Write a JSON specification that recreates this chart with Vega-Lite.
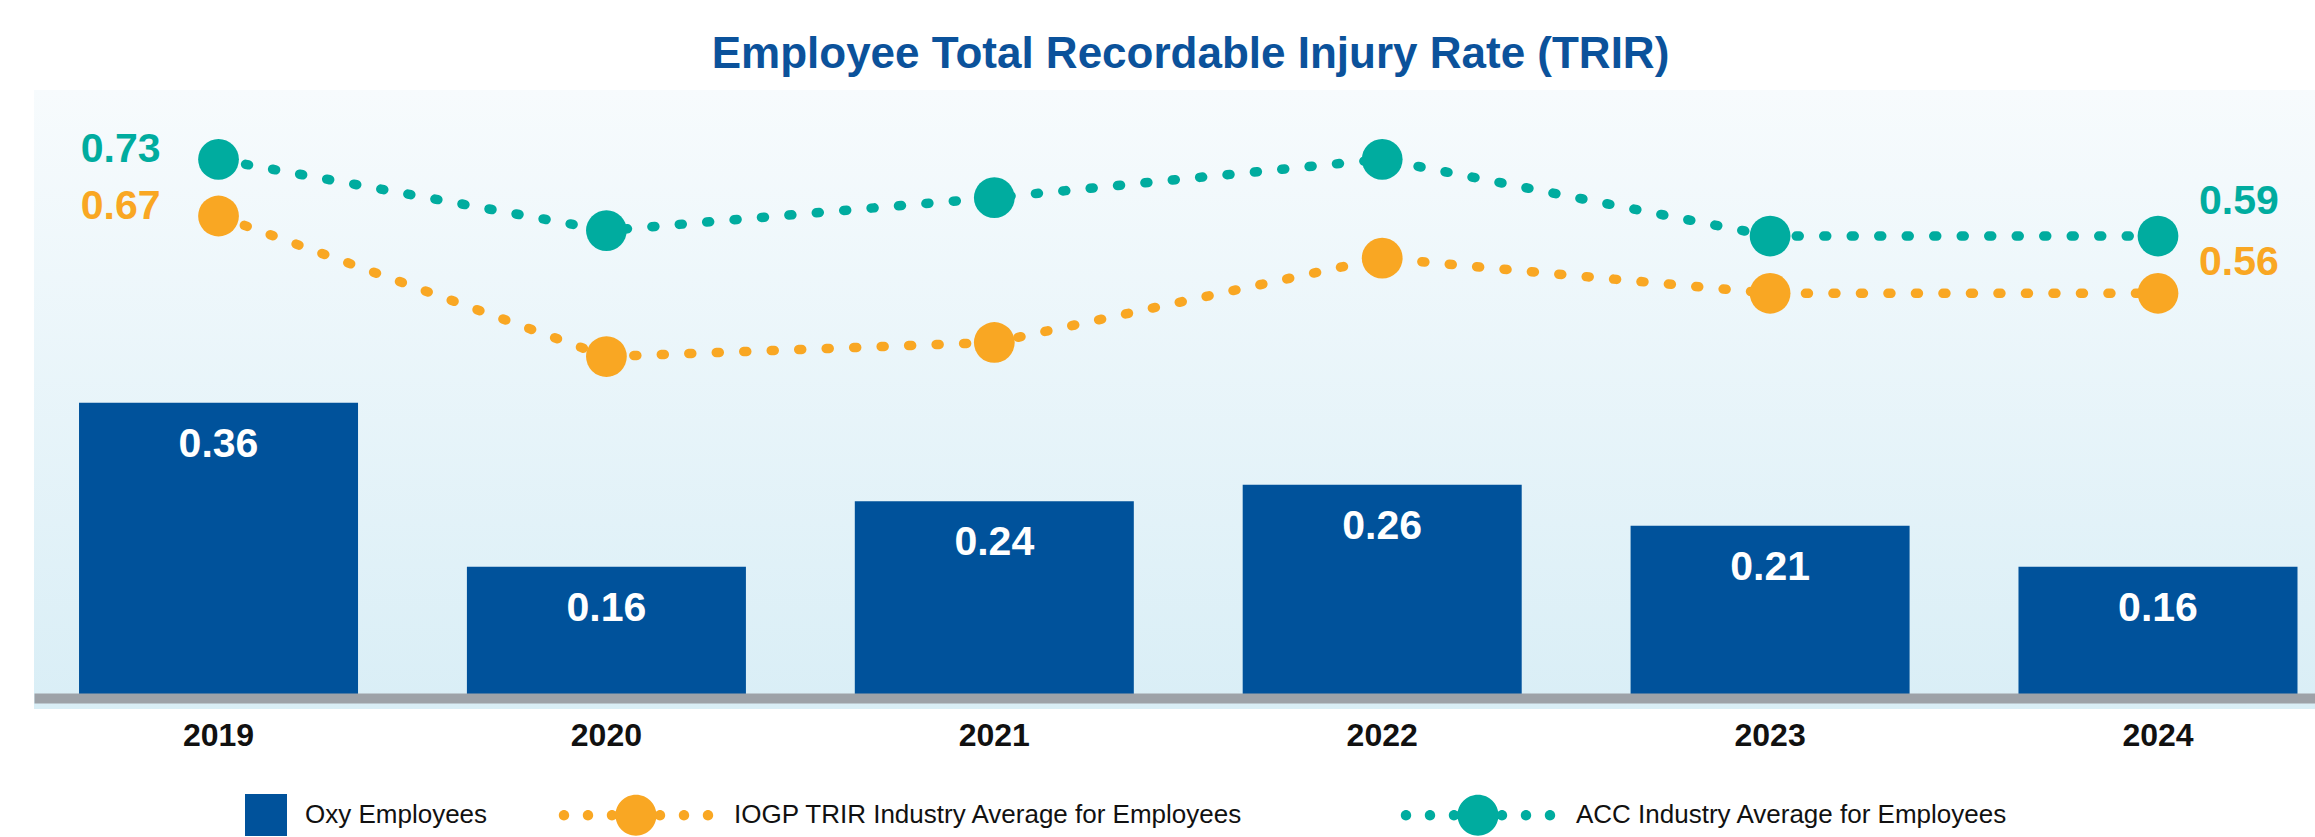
{
  "$schema": "https://vega.github.io/schema/vega-lite/v6.json",
  "width": 2281,
  "height": 619,
  "autosize": "none",
  "padding": {"left": 34, "top": 90, "right": 0, "bottom": 128},
  "background": "#ffffff",
  "config": {
    "view": {
      "stroke": null,
      "fill": {"gradient": "linear", "x1": 0, "y1": 0, "x2": 0, "y2": 1,
        "stops": [{"offset": 0, "color": "#F7FBFD"}, {"offset": 1, "color": "#D9EEF6"}]}
    },
    "font": "Liberation Sans, Arial, sans-serif"
  },
  "title": {
    "text": "Employee Total Recordable Injury Rate (TRIR)",
    "anchor": "middle",
    "frame": "group",
    "offset": -22,
    "baseline": "alphabetic",
    "dx": 16,
    "font": "Liberation Sans, Arial, sans-serif",
    "fontSize": 44,
    "fontWeight": "bold",
    "color": "#0B529B"
  },
  "data": {
    "values": [
      {"year": 2019, "series": "Oxy Employees", "value": 0.36},
      {"year": 2020, "series": "Oxy Employees", "value": 0.16},
      {"year": 2021, "series": "Oxy Employees", "value": 0.24},
      {"year": 2022, "series": "Oxy Employees", "value": 0.26},
      {"year": 2023, "series": "Oxy Employees", "value": 0.21},
      {"year": 2024, "series": "Oxy Employees", "value": 0.16},
      {"year": 2019, "series": "IOGP TRIR Industry Average for Employees", "value": 0.67},
      {"year": 2020, "series": "IOGP TRIR Industry Average for Employees", "value": 0.47},
      {"year": 2021, "series": "IOGP TRIR Industry Average for Employees", "value": 0.49},
      {"year": 2022, "series": "IOGP TRIR Industry Average for Employees", "value": 0.61},
      {"year": 2023, "series": "IOGP TRIR Industry Average for Employees", "value": 0.56},
      {"year": 2024, "series": "IOGP TRIR Industry Average for Employees", "value": 0.56},
      {"year": 2019, "series": "ACC Industry Average for Employees", "value": 0.73},
      {"year": 2020, "series": "ACC Industry Average for Employees", "value": 0.60},
      {"year": 2021, "series": "ACC Industry Average for Employees", "value": 0.66},
      {"year": 2022, "series": "ACC Industry Average for Employees", "value": 0.73},
      {"year": 2023, "series": "ACC Industry Average for Employees", "value": 0.59},
      {"year": 2024, "series": "ACC Industry Average for Employees", "value": 0.59}
    ]
  },
  "encoding": {
    "x": {
      "field": "year", "type": "ordinal",
      "scale": {"paddingInner": 0.2807, "paddingOuter": 0.0806, "align": 0.72},
      "axis": {
        "title": null, "labelAngle": 0, "ticks": false, "tickSize": 0,
        "domainColor": "#9DA2A8", "domainWidth": 10, "domainCap": "butt",
        "offset": -11, "zindex": 1, "labelPadding": 22,
        "labelFont": "Liberation Sans, Arial, sans-serif",
        "labelFontSize": 32, "labelFontWeight": "bold", "labelColor": "#111111"
      }
    }
  },
  "layer": [
    {
      "transform": [{"filter": "datum.series === 'Oxy Employees'"}],
      "encoding": {
        "y": {"field": "value", "type": "quantitative",
          "scale": {"domain": [-0.013415, 0.74146], "nice": false, "zero": false}, "axis": null}
      },
      "layer": [
        {
          "mark": {"type": "bar"},
          "encoding": {
            "color": {
              "field": "series", "type": "nominal",
              "scale": {
                "domain": ["Oxy Employees", "IOGP TRIR Industry Average for Employees", "ACC Industry Average for Employees"],
                "range": ["#00529B", "#F9A723", "#00AC9F"]
              },
              "legend": {
                "orient": "none", "legendX": 93, "legendY": 645,
                "direction": "horizontal", "title": null, "padding": 0,
                "symbolSize": 25600, "symbolStrokeWidth": 0,
                "labelFont": "Liberation Sans, Arial, sans-serif",
                "labelFontSize": 26, "labelColor": "#111111", "labelOffset": 18,
                "labelLimit": 2000, "columnPadding": 68,
                "encode": {
                  "labels": {
                    "update": {
                      "dx": {"signal": "datum.value === 'ACC Industry Average for Employees' ? 86 : 0"}
                    }
                  },
                  "symbols": {
                    "update": {
                      "shape": {"signal": "datum.value === 'Oxy Employees' ? 'M0.475,-0.2625H1V0.2625H0.475Z' : datum.value === 'ACC Industry Average for Employees' ? 'M0.819,0A0.256,0.256,0,1,0,1.331,0A0.256,0.256,0,1,0,0.819,0Z M0.11,0A0.065,0.065,0,1,0,0.24,0A0.065,0.065,0,1,0,0.11,0Z M0.41,0A0.065,0.065,0,1,0,0.54,0A0.065,0.065,0,1,0,0.41,0Z M0.71,0A0.065,0.065,0,1,0,0.84,0A0.065,0.065,0,1,0,0.71,0Z M1.31,0A0.065,0.065,0,1,0,1.44,0A0.065,0.065,0,1,0,1.31,0Z M1.61,0A0.065,0.065,0,1,0,1.74,0A0.065,0.065,0,1,0,1.61,0Z M1.91,0A0.065,0.065,0,1,0,2.04,0A0.065,0.065,0,1,0,1.91,0Z' : 'M-0.256,0A0.256,0.256,0,1,0,0.256,0A0.256,0.256,0,1,0,-0.256,0Z M-0.965,0A0.065,0.065,0,1,0,-0.835,0A0.065,0.065,0,1,0,-0.965,0Z M-0.665,0A0.065,0.065,0,1,0,-0.535,0A0.065,0.065,0,1,0,-0.665,0Z M-0.365,0A0.065,0.065,0,1,0,-0.235,0A0.065,0.065,0,1,0,-0.365,0Z M0.235,0A0.065,0.065,0,1,0,0.365,0A0.065,0.065,0,1,0,0.235,0Z M0.535,0A0.065,0.065,0,1,0,0.665,0A0.065,0.065,0,1,0,0.535,0Z M0.835,0A0.065,0.065,0,1,0,0.965,0A0.065,0.065,0,1,0,0.835,0Z'"},
                      "opacity": {"value": 1},
                      "fillOpacity": {"value": 1}
                    }
                  }
                }
              }
            }
          }
        },
        {
          "mark": {"type": "text", "baseline": "top", "dy": 22, "fontSize": 41, "fontWeight": "bold", "color": "#ffffff",
            "font": "Liberation Sans, Arial, sans-serif"},
          "encoding": {"text": {"field": "value", "type": "quantitative", "format": ".2f"}}
        }
      ]
    },
    {
      "transform": [{"filter": "datum.series === 'IOGP TRIR Industry Average for Employees'"}],
      "encoding": {
        "y": {"field": "value", "type": "quantitative",
          "scale": {"domain": [-0.03159, 0.8493], "nice": false, "zero": false}, "axis": null}
      },
      "layer": [
        {"mark": {"type": "line", "color": "#F9A723", "strokeWidth": 9.5, "strokeDash": [3, 24.5], "strokeCap": "round"}},
        {"mark": {"type": "point", "filled": true, "size": 1662, "color": "#F9A723", "opacity": 1}},
        {
          "transform": [{"filter": "datum.year === 2019"}],
          "mark": {"type": "text", "align": "right", "baseline": "middle", "dx": -58, "dy": -9, "fontSize": 41, "fontWeight": "bold", "color": "#F9A723",
            "font": "Liberation Sans, Arial, sans-serif"},
          "encoding": {"text": {"field": "value", "type": "quantitative", "format": ".2f"}}
        },
        {
          "transform": [{"filter": "datum.year === 2024"}],
          "mark": {"type": "text", "align": "left", "baseline": "middle", "dx": 41, "dy": -30, "fontSize": 41, "fontWeight": "bold", "color": "#F9A723",
            "font": "Liberation Sans, Arial, sans-serif"},
          "encoding": {"text": {"field": "value", "type": "quantitative", "format": ".2f"}}
        }
      ]
    },
    {
      "transform": [{"filter": "datum.series === 'ACC Industry Average for Employees'"}],
      "encoding": {
        "y": {"field": "value", "type": "quantitative",
          "scale": {"domain": [-0.27322, 0.85654], "nice": false, "zero": false}, "axis": null}
      },
      "layer": [
        {"mark": {"type": "line", "color": "#00AC9F", "strokeWidth": 9.5, "strokeDash": [3, 24.5], "strokeCap": "round"}},
        {"mark": {"type": "point", "filled": true, "size": 1662, "color": "#00AC9F", "opacity": 1}},
        {
          "transform": [{"filter": "datum.year === 2019"}],
          "mark": {"type": "text", "align": "right", "baseline": "middle", "dx": -58, "dy": -9, "fontSize": 41, "fontWeight": "bold", "color": "#00AC9F",
            "font": "Liberation Sans, Arial, sans-serif"},
          "encoding": {"text": {"field": "value", "type": "quantitative", "format": ".2f"}}
        },
        {
          "transform": [{"filter": "datum.year === 2024"}],
          "mark": {"type": "text", "align": "left", "baseline": "middle", "dx": 41, "dy": -34, "fontSize": 41, "fontWeight": "bold", "color": "#00AC9F",
            "font": "Liberation Sans, Arial, sans-serif"},
          "encoding": {"text": {"field": "value", "type": "quantitative", "format": ".2f"}}
        }
      ]
    }
  ],
  "resolve": {"scale": {"y": "independent"}}
}
